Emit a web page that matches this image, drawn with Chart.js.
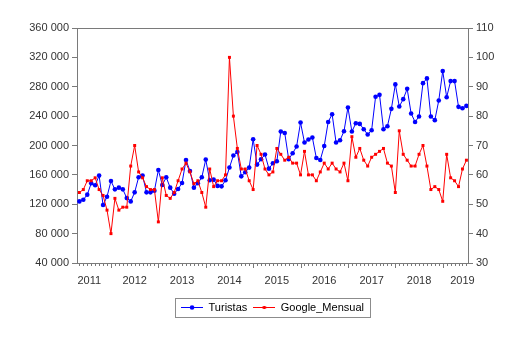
<!DOCTYPE html>
<html>
<head>
<meta charset="utf-8">
<script src="https://cdn.jsdelivr.net/npm/chart.js@4/dist/chart.umd.min.js"></script>
<style>
  html, body { margin: 0; padding: 0; background: #ffffff; }
  #wrap { width: 525px; height: 341px; }
</style>
</head>
<body>
<div id="wrap"><canvas id="chart" width="525" height="341"></canvas></div>
<script>
  // Serie mensual: mayo 2011 - julio 2019
  const startYear = 2011;
  const startMonth = 5;

  const turistas = [
    123900, 126200, 133100, 148500, 145800, 159000, 118900, 130300, 151600, 140300,
    142600, 140300, 128400, 123900, 136200, 156700, 159000, 136200, 136200, 138500,
    166600, 146200, 156700, 142600, 134400, 140700, 148900, 180300, 165300, 142600,
    148500, 156700, 180800, 152600, 153500, 145000, 144400, 152600, 170000, 186300,
    191200, 158000, 163500, 169900, 208500, 174000, 181200, 187700, 168500, 175800,
    178500, 219000, 217100, 181200, 189400, 198600, 231300, 204000, 208100, 210800,
    183000, 180300, 199400, 232100, 242600, 204000, 207200, 219400, 251800, 219000,
    230400, 229400, 222200, 214900, 220800, 266300, 269000, 222200, 226300, 249900,
    283200, 253200, 263100, 277200, 243600, 232100, 239500, 284900, 291400, 239500,
    234500, 261300, 301300, 265800, 287700, 287700, 252600, 250800, 254000
  ];

  const googleMensual = [
    54, 55, 58, 58, 59, 55, 53, 48, 40, 52,
    48, 49, 49, 63, 70, 61, 59, 56, 55, 55,
    44, 59, 53, 52, 54, 58, 62, 64, 61, 57,
    58, 54, 49, 62, 56, 58, 58, 60, 100, 80,
    69, 62, 62, 58, 55, 70, 67, 62, 60, 61,
    69, 67, 65, 66, 64, 64, 60, 68, 60, 60,
    58, 61, 64, 62, 64, 62, 61, 64, 58, 73,
    66, 69, 65, 63, 66, 67, 68, 69, 64, 63,
    54, 75, 67, 65, 63, 63, 67, 70, 63, 55,
    56, 55, 51, 67, 59, 58, 56, 62, 65
  ];

  const years = ["2011", "2012", "2013", "2014", "2015", "2016", "2017", "2018", "2019"];
  const leftTicks = [40000, 360000, 40000];   // min, max, paso
  const rightTicks = [30, 110, 10];

  const axisColor = "#7a7a7a";
  const textColor = "#333333";

  // etiquetas de mes (AAAA-MM)
  const months = turistas.map((_, i) => {
    const m = startMonth - 1 + i;
    const y = startYear + Math.floor(m / 12);
    return y + "-" + String((m % 12) + 1).padStart(2, "0");
  });

  // posición de cada año: centro del año (julio), sin salir del eje
  const yearPos = years.map((y) => {
    const jul = months.indexOf(y + "-07");
    const idx = jul >= 0 ? jul : (Number(y) - startYear) * 12 + 7 - startMonth;
    return Math.min(Math.max(idx, 2.5), months.length - 2);
  });

  function fmtMiles(v) {
    return String(v).replace(/\B(?=(\d{3})+(?!\d))/g, " ");
  }

  function legendIcon(color, square) {
    const c = document.createElement("canvas");
    c.width = 22;
    c.height = 7;
    const g = c.getContext("2d");
    g.strokeStyle = color;
    g.lineWidth = 1;
    g.beginPath();
    g.moveTo(0, 3.5);
    g.lineTo(22, 3.5);
    g.stroke();
    g.fillStyle = color;
    if (square) {
      g.fillRect(9.5, 2, 3, 3);
    } else {
      g.beginPath();
      g.arc(11, 3.5, 2.3, 0, Math.PI * 2);
      g.fill();
    }
    return c;
  }

  // marcas del eje X, borde superior y recuadro de la leyenda
  const frameAndTicks = {
    id: "frameAndTicks",
    afterDraw(chart) {
      const { ctx, chartArea: a } = chart;
      const x = chart.scales.x;
      ctx.save();
      ctx.strokeStyle = axisColor;
      ctx.lineWidth = 1;
      ctx.beginPath();
      months.forEach((m, i) => {
        const px = Math.round(x.getPixelForValue(i)) + 0.5;
        const len = m.endsWith("-01") ? 5 : 3;
        ctx.moveTo(px, a.bottom);
        ctx.lineTo(px, a.bottom + len);
      });
      ctx.moveTo(a.left, Math.round(a.top) + 0.5);
      ctx.lineTo(a.right, Math.round(a.top) + 0.5);
      ctx.stroke();

      const hb = chart.legend.legendHitBoxes;
      if (hb && hb.length) {
        const l = Math.min(...hb.map((b) => b.left)) - 6;
        const r = Math.max(...hb.map((b) => b.left + b.width)) + 6;
        const t = Math.min(...hb.map((b) => b.top)) - 4;
        const btm = Math.max(...hb.map((b) => b.top + b.height)) + 4;
        ctx.strokeStyle = "#8c8c8c";
        ctx.strokeRect(Math.round(l) + 0.5, Math.round(t) + 0.5, Math.round(r - l), Math.round(btm - t));
      }
      ctx.restore();
    },
  };

  Chart.defaults.font.family = "'Liberation Sans', Arial, sans-serif";
  Chart.defaults.font.size = 11;
  Chart.defaults.color = textColor;

  new Chart(document.getElementById("chart"), {
    type: "line",
    data: {
      datasets: [
        {
          label: "Turistas",
          data: turistas.map((v, i) => ({ x: i, y: v })),
          yAxisID: "y",
          borderColor: "#0000ff",
          backgroundColor: "#0000ff",
          borderWidth: 1,
          pointStyle: "circle",
          pointRadius: 2.3,
          pointBorderWidth: 0,
          pointBackgroundColor: "#0000ff",
          tension: 0,
          order: 2,
        },
        {
          label: "Google_Mensual",
          data: googleMensual.map((v, i) => ({ x: i, y: v })),
          yAxisID: "y1",
          borderColor: "#ff0000",
          backgroundColor: "#ff0000",
          borderWidth: 1,
          pointStyle: "rect",
          pointRadius: 2.1,
          pointBorderWidth: 0,
          pointBackgroundColor: "#ff0000",
          tension: 0,
          order: 1,
        },
      ],
    },
    options: {
      responsive: false,
      animation: false,
      devicePixelRatio: 1,
      layout: { padding: { top: 28, left: 20, right: 0, bottom: 18 } },
      plugins: {
        tooltip: { enabled: false },
        legend: {
          position: "bottom",
          labels: {
            usePointStyle: true,
            pointStyleWidth: 22,
            boxHeight: 7,
            padding: 6,
            color: "#222222",
            sort: (a, b) => a.datasetIndex - b.datasetIndex,
            generateLabels: (chart) =>
              chart.data.datasets.map((ds, i) => ({
                text: ds.label,
                datasetIndex: i,
                pointStyle: legendIcon(ds.borderColor, i === 1),
                fillStyle: ds.borderColor,
                strokeStyle: ds.borderColor,
                lineWidth: 0,
                hidden: false,
              })),
          },
        },
      },
      scales: {
        x: {
          type: "linear",
          min: -0.6,
          max: months.length - 1 + 0.4,
          grid: { display: false, drawTicks: false },
          border: { color: axisColor },
          ticks: {
            padding: 11,
            autoSkip: false,
            maxRotation: 0,
            callback: (v, i) => years[i],
          },
          afterBuildTicks: (s) => {
            s.ticks = yearPos.map((p) => ({ value: p }));
          },
          afterFit: (s) => {
            s.height = 33;
          },
        },
        y: {
          type: "linear",
          position: "left",
          min: leftTicks[0],
          max: leftTicks[1],
          ticks: { stepSize: leftTicks[2], padding: 3, callback: (v) => fmtMiles(v) },
          grid: { drawOnChartArea: false, tickLength: 5, color: axisColor },
          border: { color: axisColor },
          afterFit: (s) => {
            s.width = 57;
          },
        },
        y1: {
          type: "linear",
          position: "right",
          min: rightTicks[0],
          max: rightTicks[1],
          ticks: { stepSize: rightTicks[2], padding: 3 },
          grid: { drawOnChartArea: false, tickLength: 5, color: axisColor },
          border: { color: axisColor },
          afterFit: (s) => {
            s.width = 57;
          },
        },
      },
    },
    plugins: [frameAndTicks],
  });
</script>
</body>
</html>
